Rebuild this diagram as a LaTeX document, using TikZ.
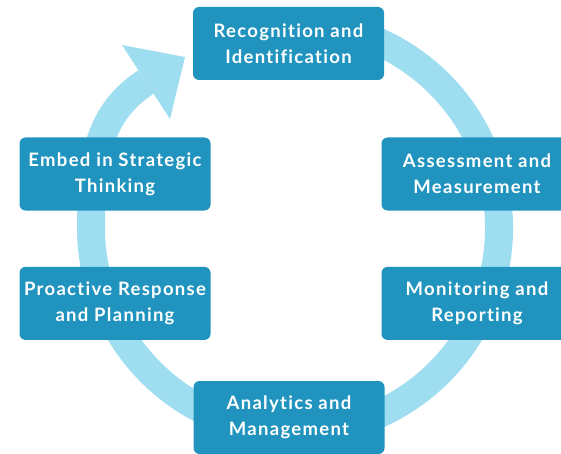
\documentclass[tikz,border=0pt]{standalone}
\usepackage{fontspec}
\setmainfont{Lato}[LetterSpace=7, Ligatures=NoCommon]
\usepackage{tikz}
\usetikzlibrary{positioning}
\definecolor{sarcelle}{RGB}{32,148,190}
\definecolor{ciel}{RGB}{158,222,240}

\begin{document}
\begin{tikzpicture}[x=1pt, y=1pt, node distance=56pt and 172pt,
  font=\fontsize{18.5}{26}\selectfont\bfseries,
  etape/.style={fill=sarcelle, text=white, rounded corners=6pt, minimum width=191pt, minimum height=73pt, align=center, inner sep=0pt},
  anneau/.style={draw=ciel, line width=28pt}]
\useasboundingbox (0,0) rectangle (561,453);
\coordinate (centre) at (295,225);
% anneau, puis la pointe de la fleche
\draw[anneau] (centre) ++(100:204) arc[start angle=100, end angle=-180, radius=204] coordinate (g) to[out=90, in=213] (146,371) coordinate (base);
\fill[ciel] (122,408) -- (185,396) -- (170,334) -- cycle;
\node[etape] (r) at (288.5,409.5) {Recognition and\\Identification};
\node[etape] (a) at (477,279) {Assessment and\\Measurement};
\node[etape, below=56pt of a] (m) {Monitoring and\\Reporting};
\node[etape] (an) at (289,35.5) {Analytics and\\Management};
\node[etape] (e) at (115,279) {Embed in Strategic\\Thinking};
\node[etape, below=56pt of e] (p) {Proactive Response\\and Planning};
\end{tikzpicture}
\end{document}
